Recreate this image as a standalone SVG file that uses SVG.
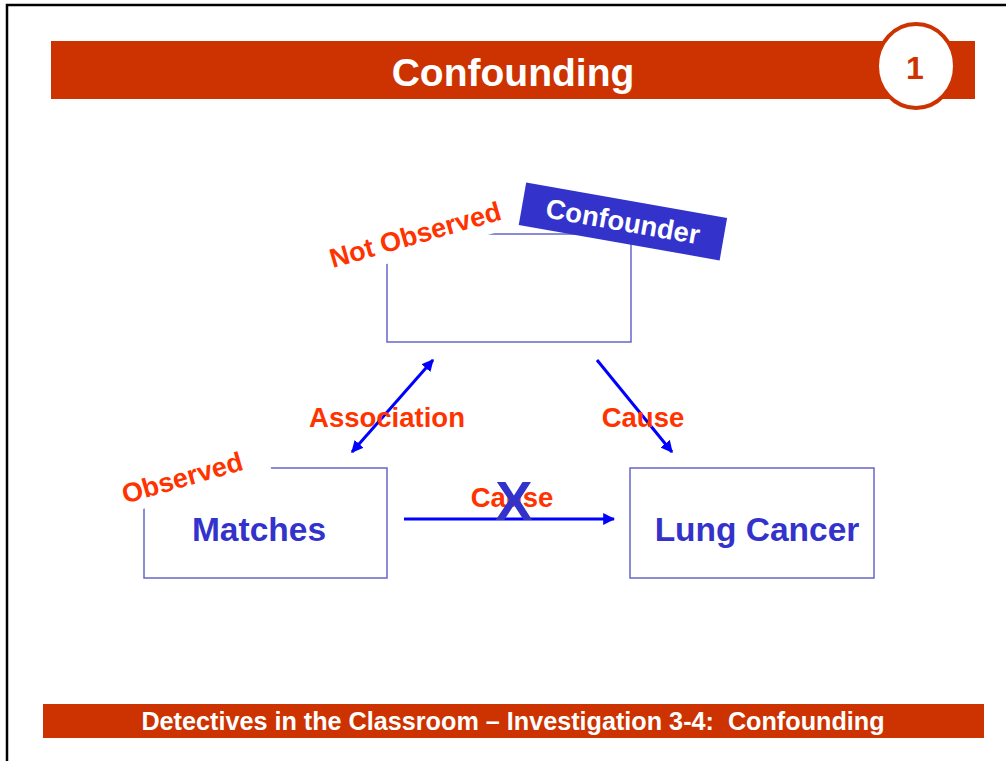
<svg xmlns="http://www.w3.org/2000/svg" width="1006" height="761" viewBox="0 0 1006 761">
  <style>
    text { font-family: "Liberation Sans", Arial, sans-serif; font-weight: bold; }
    .bar { fill: #CC3300; }
    .box { fill: none; stroke: #6666CC; stroke-width: 1.5; }
    .red { fill: #FF3300; font-size: 27.5px; }
    .tag { fill: #FF3300; font-size: 27px; text-anchor: middle; }
    .node { fill: #3333CC; font-size: 33.5px; text-anchor: middle; }
    .link { stroke: #0000FF; stroke-width: 3; fill: none; }
  </style>
  <defs>
    <marker id="head" viewBox="0 0 10 10" refX="9" refY="5" markerWidth="4" markerHeight="4" orient="auto-start-reverse">
      <path d="M0,0 L10,5 L0,10 Z" fill="#0000FF"/>
    </marker>
  </defs>

  <rect width="1006" height="761" fill="#FFFFFF"/>
  <!-- slide frame -->
  <path d="M7,761 V5 H1006" fill="none" stroke="#000000" stroke-width="2.5"/>

  <!-- title bar -->
  <g id="title">
    <rect class="bar" x="51" y="41" width="924" height="58"/>
    <text x="513" y="86" font-size="39" fill="#FFFFFF" text-anchor="middle">Confounding</text>
    <ellipse cx="916" cy="66" rx="39" ry="42" fill="#FFFFFF" stroke="#CC3300" stroke-width="4"/>
    <text x="915" y="79" font-size="32" fill="#CC3300" text-anchor="middle">1</text>
  </g>

  <!-- confounder node -->
  <g id="confounder">
    <rect class="box" x="387" y="234" width="244" height="108"/>
    <g transform="rotate(10 623 221)">
      <rect x="521" y="200" width="204" height="43" fill="#3333CC"/>
      <text x="623" y="231" font-size="27.5" fill="#FFFFFF" text-anchor="middle">Confounder</text>
    </g>
    <g transform="rotate(-16 415 234)">
      <rect x="325" y="211" width="182" height="44" fill="#FFFFFF"/>
      <text class="tag" x="415" y="244">Not Observed</text>
    </g>
  </g>

  <!-- matches node -->
  <g id="matches">
    <rect class="box" x="144" y="468" width="243" height="110"/>
    <text class="node" x="259" y="541">Matches</text>
    <g transform="rotate(-16 182 477)">
      <rect x="110" y="455" width="160" height="42" fill="#FFFFFF"/>
      <text class="tag" x="182" y="487">Observed</text>
    </g>
  </g>

  <!-- lung cancer node -->
  <g id="lung-cancer">
    <rect class="box" x="630" y="468" width="244" height="110"/>
    <text class="node" x="757" y="541">Lung Cancer</text>
  </g>

  <!-- connectors -->
  <g id="connectors">
    <line class="link" x1="352" y1="452" x2="433" y2="360" marker-start="url(#head)" marker-end="url(#head)"/>
    <line class="link" x1="597" y1="360" x2="672" y2="452" marker-end="url(#head)"/>
    <line class="link" x1="404" y1="519" x2="614" y2="519" marker-end="url(#head)"/>
    <text class="red" x="387" y="427" text-anchor="middle">Association</text>
    <text class="red" x="643" y="427" text-anchor="middle">Cause</text>
    <text class="red" x="512" y="507" text-anchor="middle">Cause</text>
    <text x="514" y="520" font-size="56" fill="#3333CC" text-anchor="middle">X</text>
  </g>

  <!-- footer bar -->
  <g id="footer">
    <rect class="bar" x="43" y="704" width="941" height="34"/>
    <text x="513" y="730" font-size="25.2" fill="#FFFFFF" text-anchor="middle" xml:space="preserve">Detectives in the Classroom – Investigation 3-4:  Confounding</text>
  </g>
</svg>
